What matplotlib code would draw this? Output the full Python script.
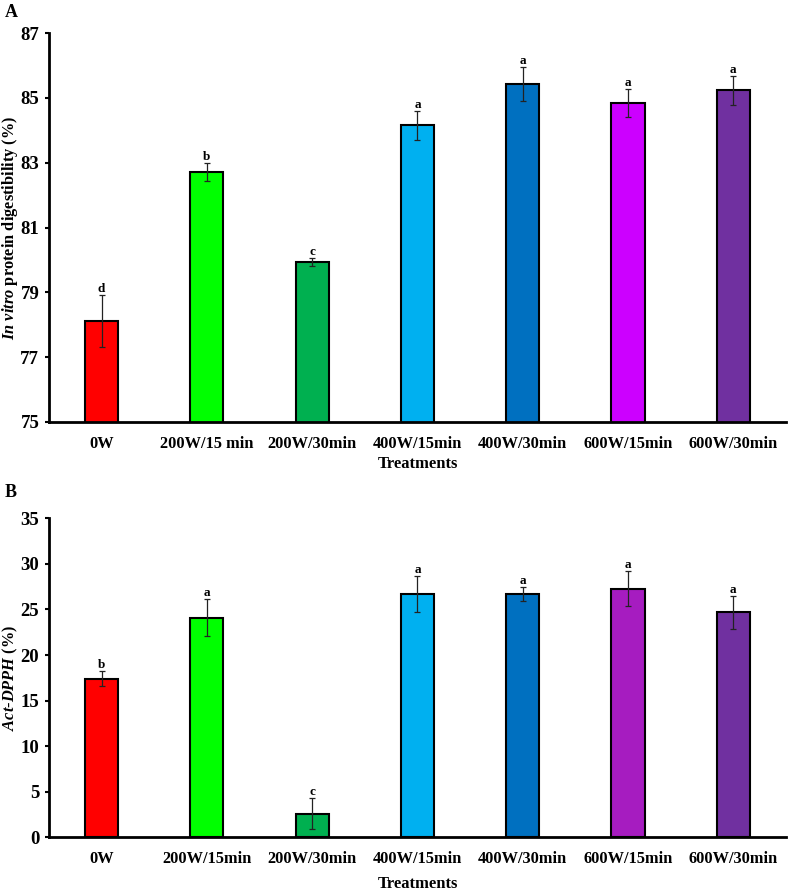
import matplotlib
matplotlib.use("Agg")
import matplotlib.pyplot as plt
import numpy as np

plt.rcParams['font.family'] = ['Liberation Serif', 'DejaVu Serif']
plt.rcParams['font.weight'] = 'bold'
plt.rcParams['mathtext.fontset'] = 'custom'
plt.rcParams['mathtext.it'] = 'Liberation Serif:italic:bold'
plt.rcParams['mathtext.bf'] = 'Liberation Serif:bold'
plt.rcParams['mathtext.rm'] = 'Liberation Serif:bold'

labels_a = ["0W", "200W/15 min", "200W/30min", "400W/15min", "400W/30min", "600W/15min", "600W/30min"]
labels_b = ["0W", "200W/15min", "200W/30min", "400W/15min", "400W/30min", "600W/15min", "600W/30min"]

ivpd = [78.12, 82.72, 79.93, 84.16, 85.43, 84.84, 85.23]
ivpd_err = [0.80, 0.27, 0.12, 0.45, 0.53, 0.44, 0.45]
ivpd_letters = ["d", "b", "c", "a", "a", "a", "a"]

dpph = [17.4, 24.1, 2.6, 26.7, 26.7, 27.3, 24.7]
dpph_err = [0.85, 2.0, 1.7, 1.95, 0.75, 1.97, 1.8]
dpph_letters = ["b", "a", "c", "a", "a", "a", "a"]

colors_a = ["#FF0000", "#00FF00", "#00B050", "#00B0F0", "#0070C0", "#CC00FF", "#7030A0"]
colors_b = ["#FF0000", "#00FF00", "#00B050", "#00B0F0", "#0070C0", "#A61CC0", "#7030A0"]

fig = plt.figure(figsize=(7.89, 8.94), dpi=100)
ax1 = fig.add_axes([0.0621, 0.528, 0.934, 0.435])
ax2 = fig.add_axes([0.0621, 0.0634, 0.934, 0.3568])

def draw(ax, labels, vals, errs, letters, colors, ylim, yticks, ylabel, xl_y):
    x = np.arange(len(labels))
    ax.bar(x, vals, width=0.315, color=colors, edgecolor="black", linewidth=1.5, zorder=2)
    ax.errorbar(x, vals, yerr=errs, fmt="none", ecolor="#222222", elinewidth=0.9,
                capsize=2, capthick=0.9, zorder=3)
    for xi, v, e, l in zip(x, vals, errs, letters):
        ax.annotate(l, (xi, v + e), xytext=(0, 0), textcoords="offset points",
                    ha="center", va="bottom", fontsize=9.5, fontweight="bold")
    ax.set_xlim(-0.5, len(labels) - 0.5)
    ax.set_ylim(*ylim)
    ax.set_yticks(yticks)
    ax.set_xticks(x)
    ax.set_xticklabels(labels, fontsize=11.8, fontweight="bold")
    ax.tick_params(axis="x", length=0, pad=10)
    ax.tick_params(axis="y", length=3, width=1.5, labelsize=13.5, pad=4)
    for t in ax.get_yticklabels():
        t.set_fontweight("bold")
    for s in ["top", "right"]:
        ax.spines[s].set_visible(False)
    for s in ["left", "bottom"]:
        ax.spines[s].set_linewidth(2)
    ax.set_xlabel("Treatments", fontsize=12, fontweight="bold")
    ax.xaxis.set_label_coords(0.5, xl_y)
    ax.set_ylabel(ylabel, fontsize=11.8, fontweight="bold")
    ax.yaxis.set_label_coords(-0.040, 0.5)

draw(ax1, labels_a, ivpd, ivpd_err, ivpd_letters, colors_a, (75, 87), [75, 77, 79, 81, 83, 85, 87],
     r"$\mathit{In\ vitro}$ protein digestibility (%)", -0.087)
draw(ax2, labels_b, dpph, dpph_err, dpph_letters, colors_b, (0, 35), [0, 5, 10, 15, 20, 25, 30, 35],
     r"$\mathit{Act}$-$\mathit{DPPH}$ (%)", -0.121)

fig.text(0.006, 0.986, "A", fontsize=13, fontweight="bold", ha="left", va="center")
fig.text(0.006, 0.449, "B", fontsize=13, fontweight="bold", ha="left", va="center")

fig.savefig("out.png", dpi=100)
